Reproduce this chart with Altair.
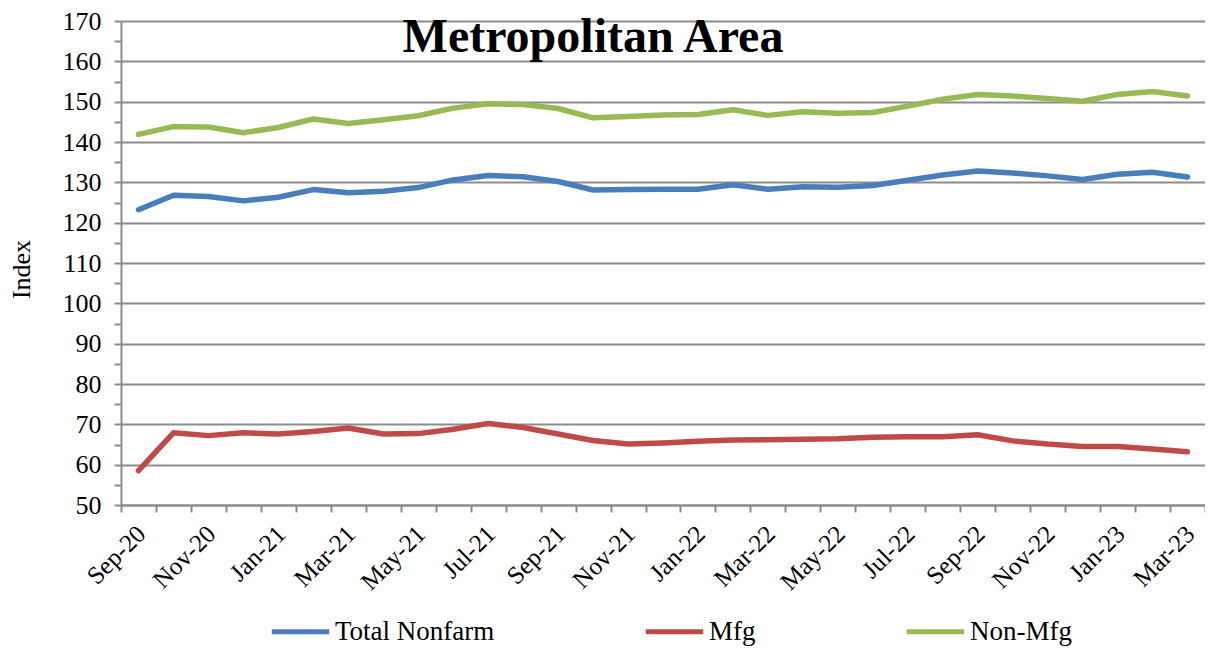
import altair as alt
import pandas as pd

months = ["Sep-20", "Oct-20", "Nov-20", "Dec-20", "Jan-21", "Feb-21", "Mar-21", "Apr-21",
          "May-21", "Jun-21", "Jul-21", "Aug-21", "Sep-21", "Oct-21", "Nov-21", "Dec-21",
          "Jan-22", "Feb-22", "Mar-22", "Apr-22", "May-22", "Jun-22", "Jul-22", "Aug-22",
          "Sep-22", "Oct-22", "Nov-22", "Dec-22", "Jan-23", "Feb-23", "Mar-23"]

total_nonfarm = [123.2, 126.8, 126.5, 125.4, 126.3, 128.2, 127.4, 127.8, 128.7, 130.6,
                 131.7, 131.4, 130.2, 128.1, 128.2, 128.3, 128.3, 129.4, 128.3, 128.9,
                 128.8, 129.2, 130.5, 131.8, 132.8, 132.3, 131.6, 130.7, 132.0, 132.5, 131.3]

mfg = [58.5, 67.9, 67.2, 67.9, 67.6, 68.2, 69.1, 67.6, 67.7, 68.8,
       70.2, 69.2, 67.6, 66.0, 65.1, 65.4, 65.8, 66.1, 66.2, 66.3,
       66.4, 66.8, 66.9, 66.9, 67.4, 65.9, 65.1, 64.5, 64.5, 63.9, 63.2]

non_mfg = [141.9, 143.8, 143.7, 142.3, 143.6, 145.7, 144.6, 145.5, 146.5, 148.4,
           149.5, 149.3, 148.3, 146.0, 146.3, 146.7, 146.8, 148.0, 146.6, 147.5,
           147.1, 147.3, 148.9, 150.6, 151.8, 151.4, 150.8, 150.1, 151.8, 152.5, 151.4]

series_names = ["Total Nonfarm", "Mfg", "Non-Mfg"]
series_colors = ["#4A7EBB", "#BE4B48", "#98B954"]
y_ticks = list(range(50, 175, 5))

rows = []
for name, vals in zip(series_names, [total_nonfarm, mfg, non_mfg]):
    for i, v in enumerate(vals):
        rows.append({"idx": i, "month": months[i], "series": name, "value": v})
df = pd.DataFrame(rows)

n = len(months)
boundaries = [i - 0.5 for i in range(n + 1)]
month_js = "[" + ",".join("'" + m + "'" for m in months) + "]"
x_label_expr = (f"(round(datum.value + 0.5) % 2 === 0 && round(datum.value + 0.5) < {n}) ? "
                f"{month_js}[round(datum.value + 0.5)] : ''")

W = 1084
H = 484
step = W / n

FONT = "Liberation Serif"
GRID = "#8C8C8C"

chart = alt.Chart(df).mark_line(strokeWidth=5.5, strokeCap="round", strokeJoin="round").encode(
    x=alt.X("idx:Q",
            scale=alt.Scale(domain=[-0.5, n - 0.5], nice=False, zero=False),
            axis=alt.Axis(values=boundaries, labelExpr=x_label_expr, labelOffset=step / 2 - 6,
                          labelAngle=-45, labelAlign="right", labelBaseline="top",
                          labelFont=FONT, labelFontSize=25, labelColor="black",
                          labelPadding=9, labelOverlap=False, labelBound=False,
                          tickSize=7, tickColor=GRID, tickWidth=2,
                          domainColor=GRID, domainWidth=2, grid=False, title=None)),
    y=alt.Y("value:Q",
            scale=alt.Scale(domain=[50, 170], nice=False, zero=False),
            axis=alt.Axis(values=y_ticks,
                          labelExpr="datum.value % 10 === 0 ? datum.label : ''",
                          labelFont=FONT, labelFontSize=26, labelColor="black",
                          labelPadding=13, tickSize=7, tickColor=GRID, tickWidth=2,
                          domainColor=GRID, domainWidth=2,
                          grid=True, gridColor=GRID, gridWidth=2,
                          gridOpacity={"condition": {"test": "datum.value % 10 === 0", "value": 1}, "value": 0},
                          title="Index", titleFont=FONT, titleFontSize=26,
                          titleFontWeight="normal", titleColor="black",
                          titleX=-100, titleY=248, titleAngle=-90, titleBaseline="middle",
                          titleAlign="center")),
    color=alt.Color("series:N",
                    scale=alt.Scale(domain=series_names, range=series_colors),
                    sort=series_names,
                    legend=alt.Legend(orient="none", legendX=148, legendY=579,
                                      direction="horizontal", title=None,
                                      symbolType="stroke", symbolSize=3300,
                                      symbolStrokeWidth=5, labelOffset=3,
                                      labelFont=FONT, labelFontSize=27, labelColor="black",
                                      columnPadding=140, padding=0)),
    order="idx:Q",
).properties(
    width=W,
    height=H,
    title=alt.TitleParams("Metropolitan Area", font=FONT, fontSize=48, fontWeight="bold",
                          color="black", anchor="middle", frame="group", dx=-70,
                          baseline="alphabetic", offset=-92),
    autosize=alt.AutoSizeParams(type="none"),
    padding={"left": 113, "top": 13, "right": 0, "bottom": 143},
).configure_view(strokeWidth=0).configure(background="white")

chart.save("out.html", embed_options={"renderer": "svg", "actions": False})
